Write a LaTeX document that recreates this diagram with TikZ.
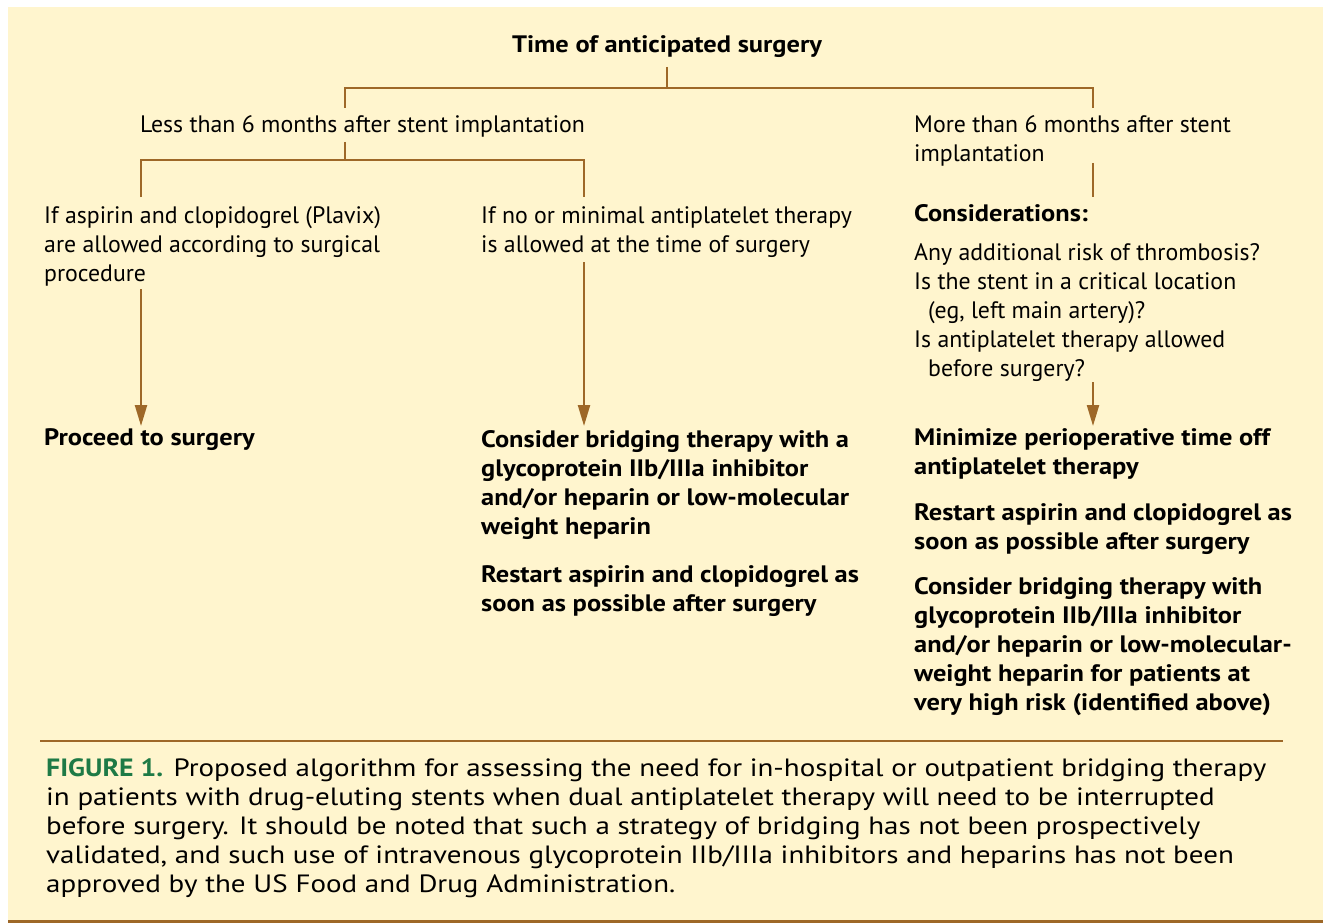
\documentclass[tikz,border=0pt]{standalone}
\usepackage{fontspec}
\setmainfont{PT Sans}[BoldFeatures={FakeStretch=1.11}]
\newfontfamily\capfont{PT Sans}[FakeStretch=1.16, BoldFeatures={FakeStretch=1.11}]
\usetikzlibrary{arrows.meta}
\definecolor{bgyel}{RGB}{255,245,206}
\definecolor{brn}{RGB}{158,104,40}
\definecolor{figgreen}{RGB}{30,122,70}
\tikzset{
  txt/.style={inner sep=0pt, anchor=base west, align=left, font=\fontsize{23.8}{29}\selectfont},
  btxt/.style={txt, font=\fontsize{23.8}{29}\selectfont\bfseries},
  conn/.style={draw=brn, line width=2.3pt},
  hbar/.style={draw=brn, line width=2.7pt},
  arr/.style={draw=brn, line width=2.3pt, -{Triangle[length=21pt,width=12pt]}},
  captxt/.style={inner sep=0pt, anchor=base west, align=left, font=\capfont\fontsize{25}{29}\selectfont}
}
\begin{document}
\begin{tikzpicture}[x=1pt,y=-1pt]
\useasboundingbox (0,0) rectangle (1323,923);
\fill[bgyel] (8,7) rectangle (1323,920);
\fill[brn] (8,920) rectangle (1323,923);

% top
\node[btxt, anchor=base] (time) at (667,53) {Time of anticipated surgery};
\coordinate (t0) at (667,67);
\coordinate (j0) at (667,88);
\coordinate (jL) at (345,108);
\coordinate (jR) at (1093,108);
\draw[conn] (t0) -- (j0);
\draw[hbar] (jL) |- (j0) -| (jR);

% less than (single line, baseline 133)
\node[txt] (less) at (140,133) {Less than 6 months after stent implantation};
\coordinate (l0) at (345,142);
\coordinate (j1) at (345,160);
\coordinate (jLL) at (141,197);
\coordinate (jLM) at (584,197);
\draw[conn] (l0) -- (j1);
\draw[conn] (jLL) |- (j1) -| (jLM);

% more than (base = last line)
\node[txt] (more) at (914,162) {More than 6 months after stent\\implantation};
\coordinate (m0) at (1093,163);
\coordinate (m1) at (1093,197);
\draw[conn] (m0) -- (m1);

% conditions
\node[txt] (condA) at (44,281) {If aspirin and clopidogrel (Plavix)\\are allowed according to surgical\\procedure};
\node[txt] (condB) at (481,252) {If no or minimal antiplatelet therapy\\is allowed at the time of surgery};
\node[btxt] (consid) at (914,222) {Considerations:};
\node[txt] (qs) at (914,376) {Any additional risk of thrombosis?\\Is the stent in a critical location\\\hspace*{14pt}(eg, left main artery)?\\Is antiplatelet therapy allowed\\\hspace*{14pt}before surgery?};

% arrows
\coordinate (aA0) at (141,289);
\coordinate (aA1) at (141,426);
\coordinate (aB0) at (584,262);
\coordinate (aB1) at (584,426);
\coordinate (aC0) at (1093,382);
\coordinate (aC1) at (1093,426);
\draw[arr] (aA0) -- (aA1);
\draw[arr] (aB0) -- (aB1);
\draw[arr] (aC0) -- (aC1);

% outcomes (base = last line)
\node[btxt] (proc) at (44,445) {Proceed to surgery};
\node[btxt] (bridgeB) at (481,534) {Consider bridging therapy with a\\glycoprotein IIb/IIIa inhibitor\\and/or heparin or low-molecular\\weight heparin};
\node[btxt] (restartB) at (481,611) {Restart aspirin and clopidogrel as\\soon as possible after surgery};
\node[btxt] (minim) at (914,474) {Minimize perioperative time off\\antiplatelet therapy};
\node[btxt] (restartC) at (914,549) {Restart aspirin and clopidogrel as\\soon as possible after surgery};
\node[btxt] (bridgeC) at (914,710) {Consider bridging therapy with\\glycoprotein IIb/IIIa inhibitor\\and/or heparin or low-molecular-\\weight heparin for patients at\\very high risk (identified above)};

% caption
\coordinate (s0) at (40,741);
\coordinate (s1) at (1283,741);
\draw[hbar] (s0) -- (s1);
\node[captxt] (caption) at (46,892) {{\color{figgreen}\bfseries FIGURE 1.} Proposed algorithm for assessing the need for in-hospital or outpatient bridging therapy\\in patients with drug-eluting stents when dual antiplatelet therapy will need to be interrupted\\before surgery. It should be noted that such a strategy of bridging has not been prospectively\\validated, and such use of intravenous glycoprotein IIb/IIIa inhibitors and heparins has not been\\approved by the US Food and Drug Administration.};
\end{tikzpicture}
\end{document}
